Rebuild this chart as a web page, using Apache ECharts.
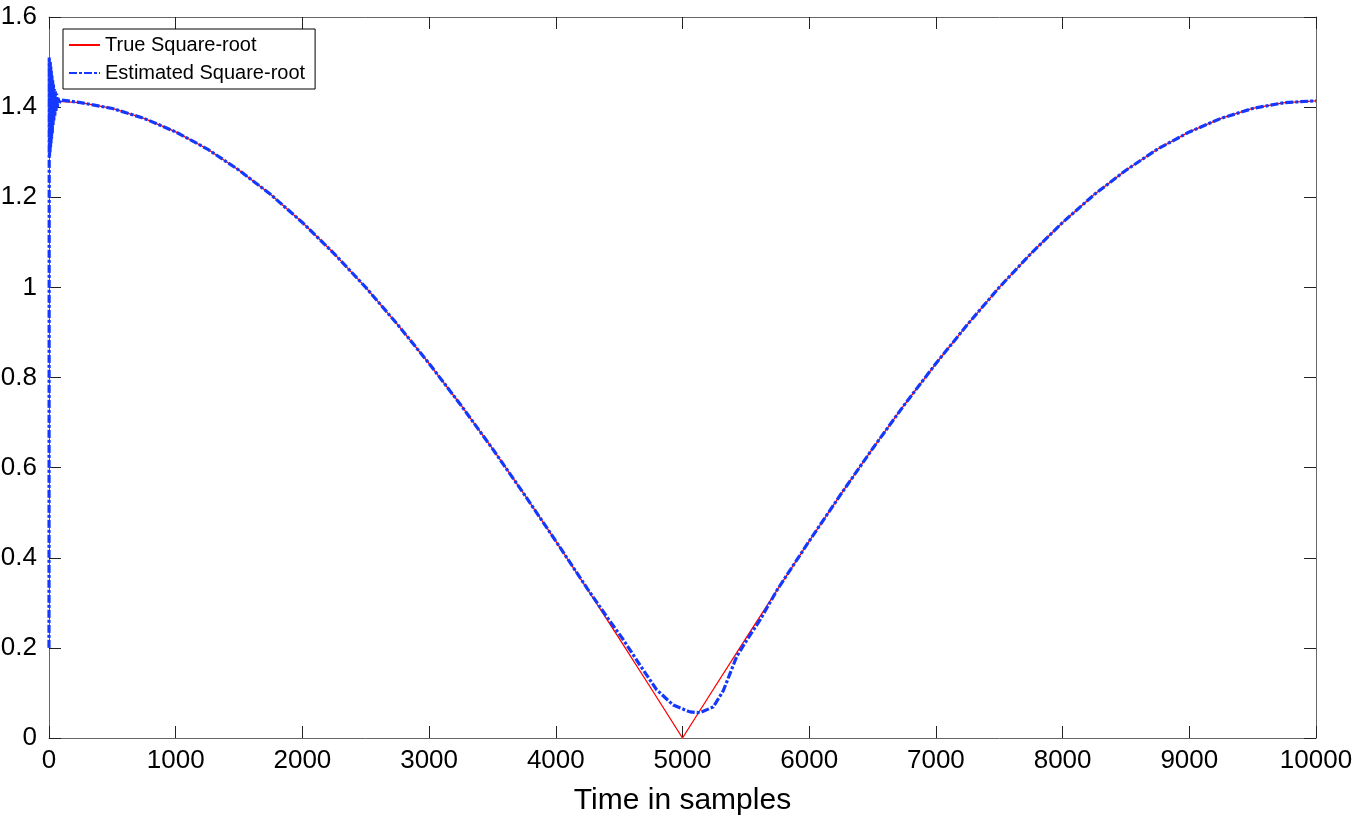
<!DOCTYPE html>
<html>
<head>
<meta charset="utf-8">
<script src="https://cdn.jsdelivr.net/npm/echarts@6/dist/echarts.min.js"></script>
<style>
  html, body { margin: 0; padding: 0; background: #fff; }
  #chart { width: 1358px; height: 825px; }
</style>
</head>
<body>
<div id="chart"></div>
<script>
// true square-root
const trueT = [0, 250, 500, 750, 1000, 1250, 1500, 1750, 2000, 2250, 2500, 2750, 3000, 3250, 3500, 3750, 4000, 4250, 4500, 4750, 5000,
  5250, 5500, 5750, 6000, 6250, 6500, 6750, 7000, 7250, 7500, 7750, 8000, 8250, 8500, 8750, 9000, 9250, 9500, 9750, 10000];
const trueV = [1.414, 1.410, 1.397, 1.375, 1.345, 1.307, 1.260, 1.206, 1.144, 1.075, 1.000, 0.918, 0.831, 0.739, 0.642, 0.541, 0.437, 0.330, 0.221, 0.111, 0,
  0.111, 0.221, 0.330, 0.437, 0.541, 0.642, 0.739, 0.831, 0.918, 1.000, 1.075, 1.144, 1.206, 1.260, 1.307, 1.345, 1.375, 1.397, 1.410, 1.414];

// estimated square-root (blue), start-up ringing + smoothed notch near 5000
const estT = [0, 2, 4, 6, 8, 10, 12, 14, 16, 18, 20, 23, 26, 29, 32, 35, 38, 42, 46, 50, 55, 60, 66, 72, 80, 90, 100,
  250, 500, 750, 1000, 1250, 1500, 1750, 2000, 2250, 2500, 2750, 3000, 3250, 3500, 3750, 4000, 4250, 4400, 4533, 4664, 4796, 4927,
  5059, 5138, 5243, 5322, 5375, 5428, 5507, 5612, 5750, 6000, 6250, 6500, 6750, 7000, 7250, 7500, 7750, 8000, 8250, 8500, 8750,
  9000, 9250, 9500, 9750, 10000];
const estV = [0.2, 1.51, 1.29, 1.50, 1.30, 1.50, 1.31, 1.49, 1.32, 1.48, 1.33, 1.47, 1.34, 1.46, 1.36, 1.45, 1.37, 1.44, 1.38, 1.435, 1.39, 1.43, 1.40, 1.42, 1.408, 1.416, 1.413,
  1.410, 1.397, 1.375, 1.345, 1.307, 1.260, 1.206, 1.144, 1.075, 1.000, 0.918, 0.831, 0.739, 0.642, 0.541, 0.437, 0.331, 0.270, 0.218, 0.162, 0.107, 0.073,
  0.058, 0.056, 0.069, 0.105, 0.143, 0.181, 0.217, 0.262, 0.330, 0.437, 0.541, 0.642, 0.739, 0.831, 0.918, 1.000, 1.075, 1.144, 1.206, 1.260, 1.307,
  1.345, 1.375, 1.397, 1.410, 1.414];

const seriesNames = ['True Square-root', 'Estimated Square-root'];

const font = 'Liberation Sans, Arial, sans-serif';
const lineCol = '#666';
const tickCol = '#222';

const chart = echarts.init(document.getElementById('chart'));

const frameAxis = (extra) => Object.assign({
  type: 'value',
  axisLine: { show: true, onZero: false, lineStyle: { color: lineCol, width: 1 } },
  axisTick: { show: true, inside: true, length: 12, lineStyle: { color: tickCol } },
  splitLine: { show: false },
}, extra);

chart.setOption({
  animation: false,
  backgroundColor: '#fff',
  grid: { left: 49, right: 42, top: 17, bottom: 87, containLabel: false, outerBoundsMode: 'none' },
  legend: {
    orient: 'vertical',
    left: 63, top: 29,
    padding: [6, 10, 6, 5],
    itemGap: 8,
    itemWidth: 31, itemHeight: 14,
    borderColor: '#000', borderWidth: 1,
    backgroundColor: '#fff',
    itemStyle: { opacity: 0 },
    textStyle: { fontFamily: font, fontSize: 20, color: '#000' },
    data: seriesNames,
  },
  xAxis: [
    frameAxis({
      position: 'bottom', min: 0, max: 10000, interval: 1000,
      name: 'Time in samples', nameLocation: 'middle', nameGap: 48,
      nameTextStyle: { fontFamily: font, fontSize: 30, color: '#000' },
      axisLabel: { fontFamily: font, fontSize: 26, color: '#000', margin: 10, formatter: (v) => String(v) },
    }),
    frameAxis({ position: 'top', min: 0, max: 10000, interval: 1000, axisLabel: { show: false } }),
  ],
  yAxis: [
    frameAxis({
      position: 'left', min: 0, max: 1.6, interval: 0.2,
      axisLabel: { fontFamily: font, fontSize: 26, color: '#000', margin: 12 },
    }),
    frameAxis({ position: 'right', min: 0, max: 1.6, interval: 0.2, axisLabel: { show: false } }),
  ],
  series: [
    {
      name: seriesNames[0], type: 'line', symbol: 'none',
      xAxisIndex: 0, yAxisIndex: 0,
      lineStyle: { color: '#ff0000', width: 1.3 },
      itemStyle: { color: '#ff0000' },
      data: trueT.map((t, i) => [t, trueV[i]]),
    },
    {
      name: seriesNames[1], type: 'line', symbol: 'none',
      xAxisIndex: 0, yAxisIndex: 0,
      lineStyle: { color: '#1538ff', width: 3.2, type: [8, 2, 3, 2] },
      itemStyle: { color: '#1538ff' },
      data: estT.map((t, i) => [t, estV[i]]),
    },
  ],
});

window.addEventListener('resize', () => chart.resize());
</script>
</body>
</html>
